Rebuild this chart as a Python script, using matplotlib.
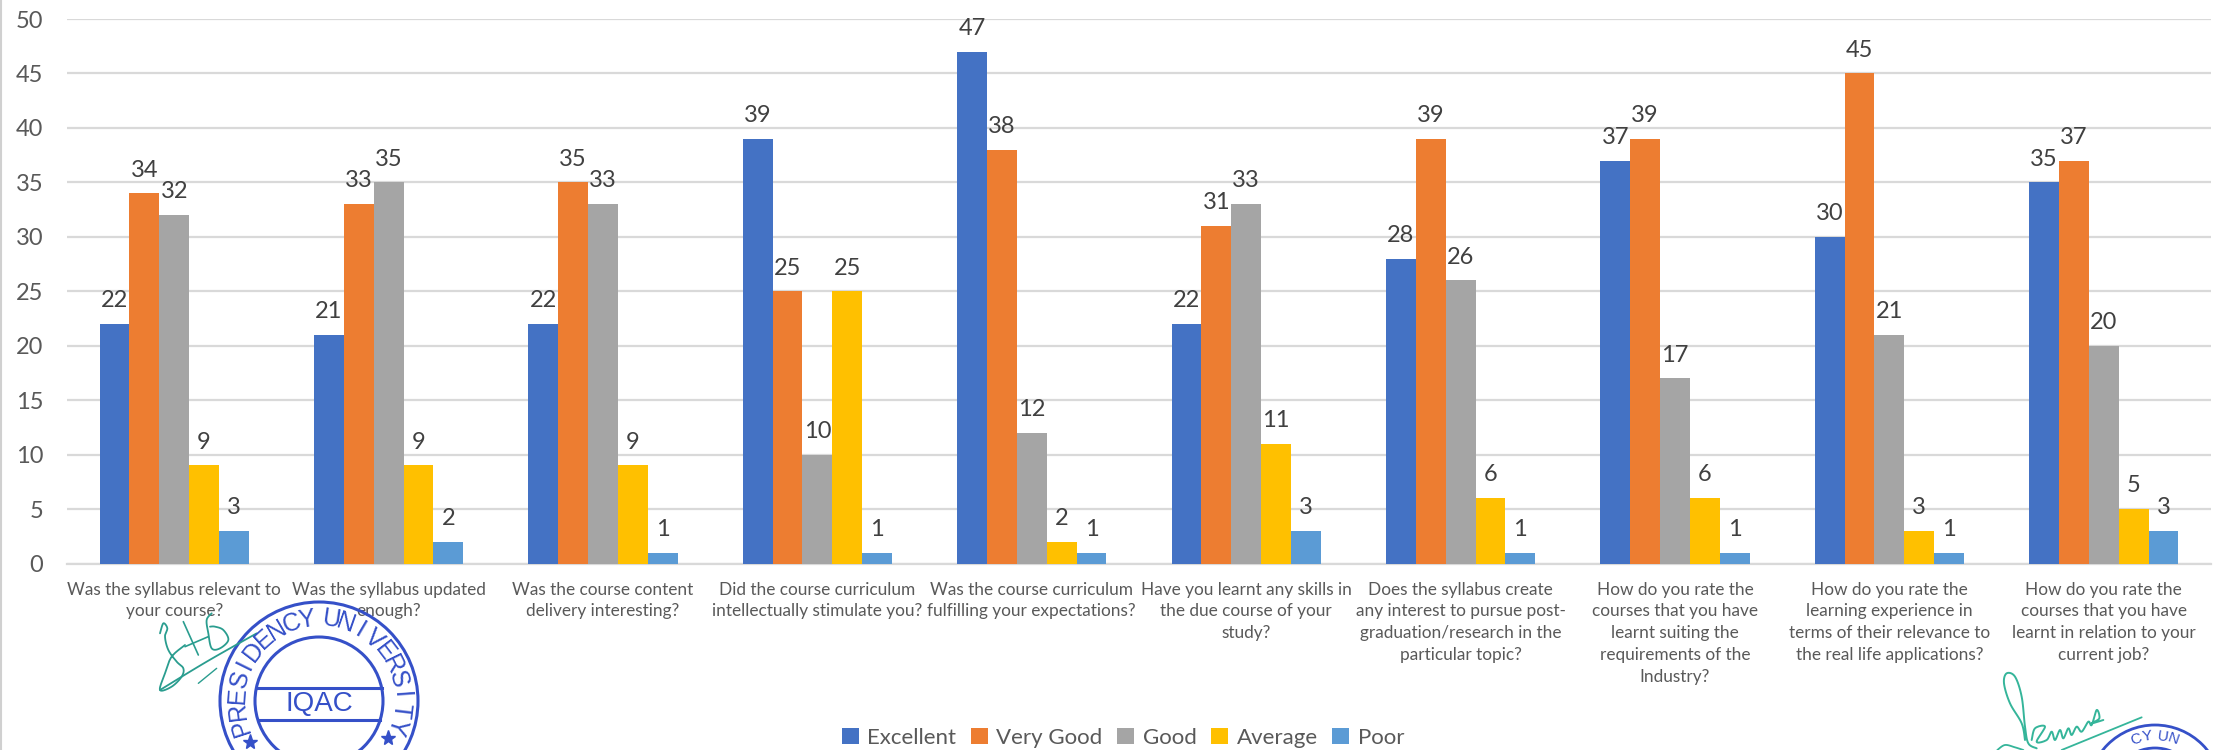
import numpy as np
import matplotlib
matplotlib.use('Agg')
import matplotlib.pyplot as plt
from matplotlib.patches import Circle

plt.rcParams['font.family'] = ['Lato', 'DejaVu Sans']

categories = [
    'Was the syllabus relevant to\nyour course?',
    'Was the syllabus updated\nenough?',
    'Was the course content\ndelivery interesting?',
    'Did the course curriculum\nintellectually stimulate you?',
    'Was the course curriculum\nfulfilling your expectations?',
    'Have you learnt any skills in\nthe due course of your\nstudy?',
    'Does the syllabus create\nany interest to pursue post-\ngraduation/research in the\nparticular topic?',
    'How do you rate the\ncourses that you have\nlearnt suiting the\nrequirements of the\nIndustry?',
    'How do you rate the\nlearning experience in\nterms of their relevance to\nthe real life applications?',
    'How do you rate the\ncourses that you have\nlearnt in relation to your\ncurrent job?',
]
excellent = [22, 21, 22, 39, 47, 22, 28, 37, 30, 35]
very_good = [34, 33, 35, 25, 38, 31, 39, 39, 45, 37]
good = [32, 35, 33, 10, 12, 33, 26, 17, 21, 20]
average = [9, 9, 9, 25, 2, 11, 6, 6, 3, 5]
poor = [3, 2, 1, 1, 1, 3, 1, 1, 1, 3]
series_names = ['Excellent', 'Very Good', 'Good', 'Average', 'Poor']
colors = ['#4472C4', '#ED7D31', '#A5A5A5', '#FFC000', '#5B9BD5']
y_ticks = [0, 5, 10, 15, 20, 25, 30, 35, 40, 45, 50]

W, H = 2216, 750
fig = plt.figure(figsize=(W / 100, H / 100), dpi=100)
ax = fig.add_axes([67 / W, 1 - 563.5 / H, (2211 - 67) / W, 544.5 / H])

x = np.arange(len(categories))
bar_w = 0.139
all_series = [excellent, very_good, good, average, poor]
for i, vals in enumerate(all_series):
    pos = x + (i - 2) * bar_w
    ax.bar(pos, vals, bar_w, color=colors[i], label=series_names[i], zorder=3)
    for p, v in zip(pos, vals):
        ax.annotate(str(v), (p, v), xytext=(0, 12), textcoords='offset points',
                    ha='center', va='baseline', fontsize=17, color='#404040', zorder=4)

ax.set_xlim(-0.5, len(categories) - 0.5)
ax.set_ylim(0, 50)
ax.set_yticks(y_ticks)
ax.set_xticks(x)
ax.set_xticklabels(categories, fontsize=12.4, color='#595959', linespacing=1.45)
ax.tick_params(axis='x', length=0, pad=13)
ax.tick_params(axis='y', length=0, pad=17, labelsize=17, labelcolor='#595959')
ax.grid(axis='y', color='#D9D9D9', linewidth=1.6, zorder=0)
ax.set_axisbelow(True)
for s in ['top', 'right', 'left']:
    ax.spines[s].set_visible(False)
ax.spines['bottom'].set_color('#D9D9D9')
ax.spines['bottom'].set_linewidth(1.6)

fig.legend(loc='center', bbox_to_anchor=(1123 / W, 1 - 738 / H), ncol=5, frameon=False,
           fontsize=16, labelcolor='#595959', handlelength=0.75, handleheight=0.75,
           handletextpad=0.4, columnspacing=0.65, borderpad=0)

# overlay in pixel coordinates for the stamps and signatures
ov = fig.add_axes([0, 0, 1, 1], zorder=10)
ov.set_xlim(0, W)
ov.set_ylim(H, 0)
ov.axis('off')
ov.patch.set_alpha(0)
ov.plot([1, 1], [0, H], color='#D0D0D0', lw=1.5)

stamp_color = '#3550C8'
stamp_text = 'PRESIDENCY UNIVERSITY'


def ring_text(cx, cy, r, fs, spread):
    # letters round the ring, a space counts half a letter
    steps = np.array([0.5 if ch == ' ' else 1.0 for ch in stamp_text])
    pos = np.cumsum(steps) - steps[0]
    angles = -spread + 2 * spread * pos / pos[-1]
    for ch, a in zip(stamp_text, angles):
        rad = np.radians(a)
        px = cx + r * np.sin(rad)
        py = cy - r * np.cos(rad)
        if py > H - 8:
            continue
        ov.text(px, py, ch, fontsize=fs, color=stamp_color, rotation=-a,
                ha='center', va='center', family=['Liberation Sans'])


def smooth(points):
    # catmull-rom through the traced points
    p = np.array(points, dtype=float)
    p = np.vstack([p[0], p, p[-1]])
    out = []
    for i in range(1, len(p) - 2):
        for t in np.linspace(0, 1, 12):
            out.append(0.5 * (2 * p[i] + (p[i + 1] - p[i - 1]) * t
                              + (2 * p[i - 1] - 5 * p[i] + 4 * p[i + 1] - p[i + 2]) * t ** 2
                              + (3 * p[i] - p[i - 1] - 3 * p[i + 1] + p[i + 2]) * t ** 3))
    return np.array(out)


def stroke(points, x0, y0, color, lw):
    s = smooth(points) / 3 + [x0, y0]
    ov.plot(s[:, 0], s[:, 1], color=color, lw=lw, solid_capstyle='round')


# left stamp
ov.add_patch(Circle((319, 701), 99, fill=False, ec=stamp_color, lw=2.2))
ov.add_patch(Circle((319, 701), 64, fill=False, ec=stamp_color, lw=2.2))
for yy in (688, 720):
    dx = np.sqrt(64 ** 2 - (yy - 701) ** 2)
    ov.plot([319 - dx, 319 + dx], [yy, yy], color=stamp_color, lw=2.2)
ring_text(319, 701, 82, 18, 108)
ov.text(319, 704, 'IQAC', fontsize=20, color=stamp_color, ha='center', va='center',
        family=['Liberation Sans'])
ov.plot([250, 388], [742, 738], ls='none', marker='*', ms=11, color=stamp_color)

# right stamp, mostly below the picture
ov.add_patch(Circle((2155, 792), 67, fill=False, ec=stamp_color, lw=2.0))
ov.add_patch(Circle((2155, 792), 44, fill=False, ec=stamp_color, lw=2.0))
ring_text(2155, 792, 56, 11, 108)

# left signature
sig = '#2A9D8F'
stroke([(60, 130), (70, 100), (82, 115), (75, 140), (85, 180), (110, 215), (130, 235), (125, 260),
        (95, 290), (60, 300), (75, 250), (95, 200), (135, 165)], 140, 590, sig, 1.3)
stroke([(60, 300), (200, 215), (350, 130)], 140, 590, sig, 1.3)
stroke([(130, 95), (175, 195)], 140, 590, sig, 1.2)
stroke([(135, 170), (205, 140)], 140, 590, sig, 1.2)
stroke([(215, 70), (200, 90), (205, 130), (215, 175), (240, 175), (265, 150), (250, 120),
        (225, 110), (210, 110)], 140, 590, sig, 1.3)
stroke([(175, 280), (230, 235)], 140, 590, sig, 1.0)

# right signature
sig2 = '#35B59A'
stroke([(195, 240), (185, 190), (150, 130), (132, 70), (140, 40), (165, 50), (185, 110), (195, 200),
        (205, 250), (230, 265)], 1960, 660, sig2, 1.4)
stroke([(215, 240), (225, 205), (255, 200), (230, 245), (260, 240), (275, 215), (285, 240), (300, 210),
        (310, 235), (325, 205), (335, 225), (350, 200), (365, 215), (385, 185), (395, 195), (410, 150),
        (418, 175), (395, 190), (430, 180)], 1960, 660, sig2, 1.4)
stroke([(305, 270), (545, 172)], 1960, 660, sig2, 1.3)
stroke([(112, 270), (135, 255), (165, 262), (190, 270)], 1960, 660, sig2, 1.3)

fig.savefig('out.png', dpi=100)
